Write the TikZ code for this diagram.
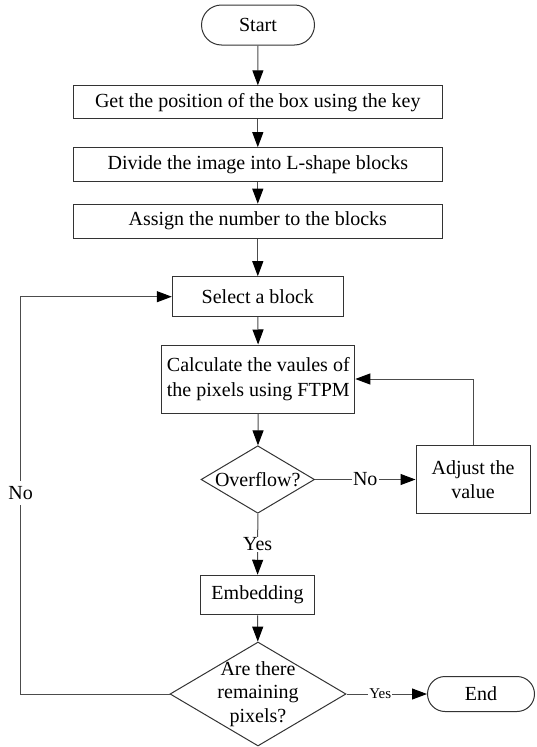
\documentclass[tikz,border=0pt]{standalone}
\usepackage{fontspec}
\setmainfont{Liberation Serif}
\usetikzlibrary{shapes.geometric,shapes.misc,arrows.meta}
\begin{document}
\begin{tikzpicture}[x=1pt,y=-1pt,
  every node/.style={font=\fontsize{20}{24}\selectfont, text=black},
  outline/.style={draw=black!80, line width=1pt},
  proc/.style={outline, rectangle, inner sep=0pt, align=center},
  term/.style={outline, rounded rectangle, inner sep=0pt},
  decide/.style={outline, diamond, inner sep=0pt},
  dtext/.style={inner sep=0pt, align=center, font=\fontsize{20}{23.5}\selectfont},
  flow/.style={draw=black!70, line width=1pt, -{Triangle[length=15pt,width=11pt,color=black]}},
  lbl/.style={fill=white, inner sep=1pt}]
\useasboundingbox (0,0) rectangle (536,747);

% main column
\node[term, minimum width=113pt, minimum height=40pt] (start) at (258,25) {Start};
\node[proc, minimum width=369pt, minimum height=33pt] (pos) at (257.8,102.3) {Get the position of the box using the key};
\node[proc, minimum width=369pt, minimum height=34pt] (div) at (257.8,164.7) {Divide the image into L-shape blocks};
\node[proc, minimum width=369pt, minimum height=34pt] (num) at (257.8,221.2) {Assign the number to the blocks};
\node[proc, minimum width=171pt, minimum height=40pt] (sel) at (257.8,296.7) {Select a block};
\node[proc, minimum width=193pt, minimum height=68pt, font=\fontsize{20}{25}\selectfont] (calc) at (258.3,379) {Calculate the vaules of\\the pixels using FTPM};

% decision: overflow test (fixed-size diamond, text set on top)
\node[decide, minimum width=113.5pt, minimum height=67.5pt] (ovf) at (257.8,479.5) {};
\node[dtext] (ovftext) at (ovf.center) {Overflow?};

\node[proc, minimum width=114pt, minimum height=68pt, font=\fontsize{20}{23.5}\selectfont] (adj) at (473,479.5) {Adjust the\\value};
\node[proc, minimum width=114pt, minimum height=39.5pt] (emb) at (257.6,595) {Embedding};

% decision: any pixels left
\node[decide, minimum width=176pt, minimum height=104pt] (rem) at (258,694) {};
\node[dtext] (remtext) at (rem.center) {Are there\\remaining\\pixels?};

\node[term, minimum width=107pt, minimum height=35pt] (end) at (481,694) {End};

% loop-back corner on the left
\coordinate (back) at (20.6,694);

% connectors
\draw[flow] (start) -- (pos);
\draw[flow] (pos) -- (div);
\draw[flow] (div) -- (num);
\draw[flow] (num) -- (sel);
\draw[flow] (sel) -- (calc);
\draw[flow] (calc) -- (ovf);
\draw[flow] (ovf.east) -- node[lbl, pos=0.5] {No} (ovf.east -| adj.west);
\draw[flow] (adj.north) |- (calc.east);
\draw[flow] (ovf.south) -- node[lbl, pos=0.5] {Yes} (emb.north);
\draw[flow] (emb) -- (rem);
\draw[flow] (rem.east) -- node[lbl, pos=0.42, font=\fontsize{15}{18}\selectfont] {Yes} (end.west);
\draw[flow] (rem.west) -- (back) |- node[lbl, pos=0.253, inner ysep=5pt] {No} (sel.west);
\end{tikzpicture}
\end{document}
